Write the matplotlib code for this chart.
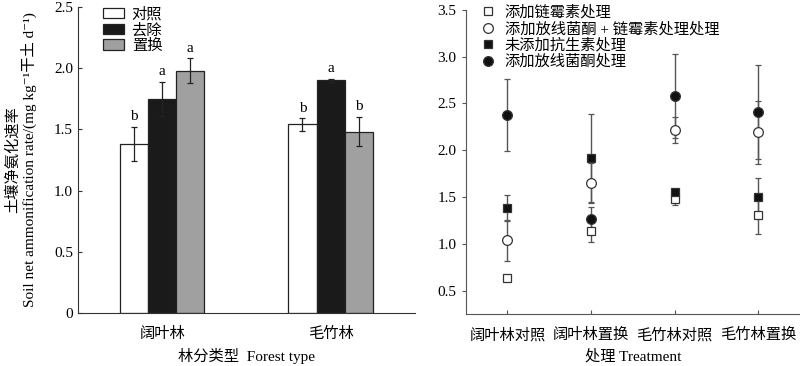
import numpy as np
import matplotlib
matplotlib.use("Agg")
import matplotlib.pyplot as plt
from matplotlib.ticker import FuncFormatter

plt.rcParams['font.family'] = ['Liberation Serif', 'Noto Sans CJK SC', 'DejaVu Serif']
plt.rcParams['font.size'] = 11
plt.rcParams['axes.unicode_minus'] = False

# left panel data
forest = ['阔叶林', '毛竹林']
groups = ['对照', '去除', '置换']
rate = [[1.38, 1.75, 1.98], [1.54, 1.90, 1.48]]
rate_err = [[0.14, 0.14, 0.10], [0.05, 0.015, 0.12]]
letters = [['b', 'a', 'a'], ['b', 'a', 'b']]

# right panel data
treat = ['阔叶林对照', '阔叶林置换', '毛竹林对照', '毛竹林置换']
series = ['添加链霉素处理', '添加放线菌酮 + 链霉素处理处理', '未添加抗生素处理', '添加放线菌酮处理']
strep = [0.64, 1.14, 1.48, 1.31]
strep_err = [0.02, 0.12, 0.07, 0.21]
both = [1.04, 1.65, 2.22, 2.19]
both_err = [0.22, 0.21, 0.14, 0.34]
none = [1.38, 1.92, 1.55, 1.50]
none_err = [0.14, 0.47, 0.04, 0.20]
cyclo = [2.38, 1.27, 2.58, 2.41]
cyclo_err = [0.385, 0.12, 0.45, 0.50]

fig = plt.figure(figsize=(8, 3.66), dpi=100)
ax1 = fig.add_axes([0.0975, 0.145, 0.421, 0.836])
ax2 = fig.add_axes([0.582, 0.142, 0.418, 0.831])

# ---- left: grouped bars
colors = ['white', '#1a1a1a', '#a0a0a0']
w = 0.167
x = np.arange(len(forest))
for j, g in enumerate(groups):
    vals = [rate[i][j] for i in range(len(forest))]
    errs = [rate_err[i][j] for i in range(len(forest))]
    pos = x + (j - 1) * w
    ax1.bar(pos, vals, w, color=colors[j], edgecolor='#222222', linewidth=0.9, label=g,
            yerr=errs, error_kw=dict(ecolor='#222222', elinewidth=0.9, capsize=2.2, capthick=0.9))
    for p, v, e, lt in zip(pos, vals, errs, [letters[i][j] for i in range(len(forest))]):
        ax1.text(p, v + e + 0.03, lt, ha='center', va='bottom', fontsize=11)

ax1.set_xlim(-0.5, 1.5)
ax1.set_ylim(0, 2.5)
ax1.set_yticks(np.arange(0, 2.51, 0.5))
ax1.yaxis.set_major_formatter(FuncFormatter(lambda v, p: '0' if v == 0 else f'{v:.1f}'))
ax1.set_xticks(x)
ax1.set_xticklabels(forest)
ax1.tick_params(axis='y', direction='in', length=3, color='#333333')
ax1.tick_params(axis='x', length=0, pad=10)
for s in ['top', 'right']:
    ax1.spines[s].set_visible(False)
for s in ['left', 'bottom']:
    ax1.spines[s].set_color('#333333')
ax1.set_xlabel('林分类型  Forest type', labelpad=5)
ax1.text(-0.195, 0.5, '土壤净氨化速率', transform=ax1.transAxes, rotation=90,
         ha='center', va='center')
ax1.text(-0.147, 0.5, 'Soil net ammonification rate/(mg kg⁻¹干土 d⁻¹)', transform=ax1.transAxes,
         rotation=90, ha='center', va='center')
ax1.legend(loc='upper left', bbox_to_anchor=(0.055, 1.02), frameon=False, handlelength=1.4,
           handleheight=0.65, handletextpad=0.5, labelspacing=0.1, borderaxespad=0)

# ---- right: points with error bars
xt = np.arange(len(treat))
ec = '#555555'
styles = [
    (strep, strep_err, 's', 'white', 5.5),
    (both, both_err, 'o', 'white', 7),
    (none, none_err, 's', '#111111', 6),
    (cyclo, cyclo_err, 'o', '#111111', 7),
]
for (vals, errs, m, fc, ms), name in zip(styles, series):
    ax2.errorbar(xt, vals, yerr=errs, fmt=m, mfc=fc, mec='#333333', mew=0.9, ms=ms,
                 ecolor=ec, elinewidth=1.0, capsize=2.2, capthick=1.0, label=name)

ax2.set_xlim(-0.5, 3.5)
ax2.set_ylim(0.25, 3.5)
ax2.set_yticks(np.arange(0.5, 3.51, 0.5))
ax2.yaxis.set_major_formatter(FuncFormatter(lambda v, p: f'{v:.1f}'))
ax2.set_xticks(xt)
ax2.set_xticklabels(treat)
ax2.tick_params(axis='y', direction='out', length=3, color=ec)
ax2.tick_params(axis='x', direction='in', length=3, color=ec, pad=10)
for s in ['top', 'right']:
    ax2.spines[s].set_visible(False)
for s in ['left', 'bottom']:
    ax2.spines[s].set_color(ec)
ax2.set_xlabel('处理 Treatment', labelpad=5)
handles, labels = ax2.get_legend_handles_labels()
handles = [h[0] for h in handles]
ax2.legend(handles, labels, loc='upper left', bbox_to_anchor=(0.025, 1.035), frameon=False,
           handlelength=1.0, handletextpad=0.6, labelspacing=0.12, borderaxespad=0)

fig.savefig('out.png', dpi=100)
